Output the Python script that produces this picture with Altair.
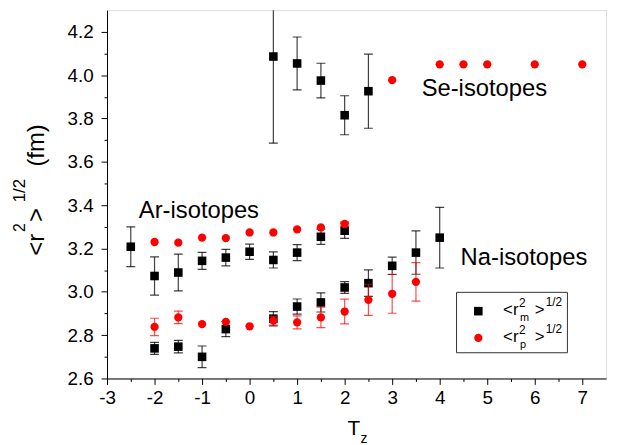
import altair as alt
import pandas as pd

# ---------------- data ----------------
# matter radius <r_m^2>^1/2 (black squares)
ar_tz_m = [-2.5, -2, -1.5, -1, -0.5, 0, 0.5, 1, 1.5, 2]
ar_r_m = [3.208, 3.073, 3.089, 3.143, 3.158, 3.185, 3.147, 3.181, 3.254, 3.282]
ar_e_m = [0.092, 0.088, 0.085, 0.039, 0.038, 0.035, 0.037, 0.037, 0.035, 0.035]

na_tz_m = [-2, -1.5, -1, -0.5, 0.5, 1, 1.5, 2, 2.5, 3, 3.5, 4]
na_r_m = [2.739, 2.747, 2.700, 2.828, 2.876, 2.932, 2.951, 3.020, 3.040, 3.120, 3.181, 3.250]
na_e_m = [0.028, 0.029, 0.050, 0.035, 0.033, 0.035, 0.044, 0.027, 0.061, 0.040, 0.100, 0.140]

se_tz_m = [0.5, 1, 1.5, 2, 2.5]
se_r_m = [4.086, 4.054, 3.975, 3.815, 3.926]
se_e_m = [0.400, 0.122, 0.080, 0.090, 0.171]

# proton radius <r_p^2>^1/2 (red circles)
ar_tz_p = [-2, -1.5, -1, -0.5, 0, 0.5, 1, 1.5, 2]
ar_r_p = [3.230, 3.227, 3.250, 3.248, 3.274, 3.274, 3.288, 3.297, 3.313]
ar_e_p = [0, 0, 0, 0, 0, 0, 0, 0, 0.010]

na_tz_p = [-2, -1.5, -1, -0.5, 0, 0.5, 1, 1.5, 2, 2.5, 3, 3.5]
na_r_p = [2.838, 2.882, 2.851, 2.861, 2.841, 2.867, 2.859, 2.882, 2.909, 2.963, 2.991, 3.046]
na_e_p = [0.040, 0.029, 0.0, 0.0, 0.0, 0.020, 0.030, 0.047, 0.057, 0.072, 0.090, 0.089]

se_tz_p = [3, 4, 4.5, 5, 6, 7]
se_r_p = [3.977, 4.050, 4.050, 4.050, 4.050, 4.050]
se_e_p = [0, 0, 0, 0, 0, 0]

x_ticks = [-3, -2.5, -2, -1.5, -1, -0.5, 0, 0.5, 1, 1.5, 2, 2.5, 3, 3.5, 4, 4.5, 5, 5.5, 6, 6.5, 7]
y_ticks = [2.6, 2.7, 2.8, 2.9, 3.0, 3.1, 3.2, 3.3, 3.4, 3.5, 3.6, 3.7, 3.8, 3.9, 4.0, 4.1, 4.2]

labels = ["Se-isotopes", "Ar-isotopes", "Na-isotopes"]
label_x = [3.62, -2.33, 4.44]
label_y = [3.906, 3.342, 3.124]

FONT = "Liberation Sans"

df_m = pd.DataFrame({
    "Tz": ar_tz_m + na_tz_m + se_tz_m,
    "r": ar_r_m + na_r_m + se_r_m,
    "err": ar_e_m + na_e_m + se_e_m,
})
df_p = pd.DataFrame({
    "Tz": ar_tz_p + na_tz_p + se_tz_p,
    "r": ar_r_p + na_r_p + se_r_p,
    "err": ar_e_p + na_e_p + se_e_p,
})
df_lab = pd.DataFrame({"label": labels, "Tz": label_x, "r": label_y})

x_axis = alt.Axis(
    values=x_ticks, title=None, grid=False,
    labelExpr="datum.value % 1 === 0 ? '' + datum.value : ''",
    tickSize={"condition": {"test": "datum.value % 1 !== 0", "value": 3}, "value": 6},
    tickColor="black", domainColor="black", labelColor="black",
    labelFont=FONT, labelFontSize=19, labelPadding=4,
    labelOverlap=False, labelFlush=False,
)
y_axis = alt.Axis(
    values=y_ticks, title=None, grid=False,
    labelExpr="round(datum.value * 10) % 2 === 0 ? format(datum.value, '.1f') : ''",
    tickSize={"condition": {"test": "round(datum.value * 10) % 2 !== 0", "value": 3}, "value": 6},
    tickColor="black", domainColor="black", labelColor="black",
    labelFont=FONT, labelFontSize=19, labelPadding=8,
    labelOverlap=False, labelFlush=False,
)
xs = alt.Scale(domain=[-3, 7.5], nice=False, zero=False)
ys = alt.Scale(domain=[2.6, 4.3], nice=False, zero=False)


def X():
    return alt.X("Tz:Q", scale=xs, axis=x_axis)


def Y(field):
    return alt.Y(field, scale=ys, axis=y_axis)


def errbars(df, color, opacity):
    base = alt.Chart(df).transform_filter("datum.err > 0").transform_calculate(
        lo="datum.r - datum.err", hi="datum.r + datum.err")
    rule = base.mark_rule(color=color, opacity=opacity, strokeWidth=1.2, clip=True).encode(
        x=X(), y=Y("lo:Q"), y2="hi:Q")
    cap_hi = base.mark_tick(color=color, opacity=opacity, orient="horizontal",
                            size=9, thickness=1.2, clip=True).encode(x=X(), y=Y("hi:Q"))
    cap_lo = base.mark_tick(color=color, opacity=opacity, orient="horizontal",
                            size=9, thickness=1.2, clip=True).encode(x=X(), y=Y("lo:Q"))
    return rule + cap_hi + cap_lo


pts_m = alt.Chart(df_m).mark_point(shape="square", filled=True, size=75, color="black",
                                   opacity=1).encode(x=X(), y=Y("r:Q"))
pts_p = alt.Chart(df_p).mark_circle(size=70, color="#ff0000", opacity=1).encode(
    x=X(), y=Y("r:Q"))

ann = alt.Chart(df_lab).mark_text(align="left", baseline="alphabetic", fontSize=24,
                                  font=FONT, color="black").encode(
    x=X(), y=Y("r:Q"), text="label:N")


def txt(s, x, y, size, angle=0, align="left", baseline="alphabetic"):
    kw = dict(align=align, baseline=baseline, fontSize=size, font=FONT, color="black")
    if angle:
        kw["angle"] = angle
    return alt.Chart(pd.DataFrame({"t": [s]})).mark_text(**kw).encode(
        text="t:N", x=alt.value(x), y=alt.value(y))


# legend box (custom, for sub/superscripts)
one = pd.DataFrame({"k": [0]})
leg_box = alt.Chart(one).mark_rect(fill="white", stroke="#333333", strokeWidth=1).encode(
    x=alt.value(353), x2=alt.value(465), y=alt.value(285), y2=alt.value(346))
leg_sq = alt.Chart(one).mark_point(shape="square", filled=True, size=75, color="black",
                                   opacity=1).encode(x=alt.value(375), y=alt.value(304))
leg_ci = alt.Chart(one).mark_circle(size=70, color="#ff0000", opacity=1).encode(
    x=alt.value(375), y=alt.value(331))

legend_texts = []
for dy, sub in [(0, "m"), (27, "p")]:
    legend_texts += [
        txt("<r", 400, 308 + dy, 17),
        txt("2", 416, 300 + dy, 12),
        txt(sub, 417, 314 + dy, 11),
        txt(">", 432, 308 + dy, 17),
        txt("1/2", 443, 299 + dy, 12),
    ]

# y axis title  <r^2>^{1/2}(fm), rotated
ytitle = [
    txt("<r", -64, 248, 24, angle=270),
    txt("2", -83, 224, 16, angle=270),
    txt(">", -64, 214, 24, angle=270),
    txt("1/2", -83, 194, 17, angle=270),
    txt("(fm)", -64, 158, 24, angle=270),
]
# x axis title T_z
xtitle = [
    txt("T", 243, 429, 21),
    txt("z", 256, 437, 14),
]

chart = alt.layer(
    errbars(df_m, "black", 0.75),
    pts_m,
    errbars(df_p, "#ff0000", 0.7),
    pts_p,
    ann,
    leg_box, leg_sq, leg_ci,
    *legend_texts,
    *ytitle,
    *xtitle,
).properties(
    width=504, height=372,
    autosize=alt.AutoSizeParams(type="none"),
    padding={"left": 100, "top": 0, "right": 5, "bottom": 65},
).configure_view(stroke="black", strokeWidth=1).configure(font=FONT)

chart.save("out.html", embed_options={"renderer": "svg", "actions": False})
